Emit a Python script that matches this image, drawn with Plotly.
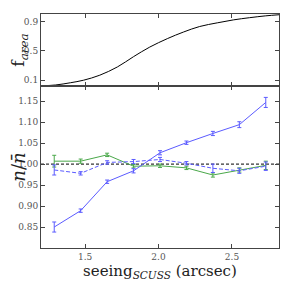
import plotly.graph_objects as go
from plotly.subplots import make_subplots

# Data
seeing = [1.29, 1.47, 1.65, 1.83, 2.01, 2.19, 2.37, 2.55, 2.73]
blue_solid = [0.850, 0.889, 0.958, 0.984, 1.027, 1.051, 1.073, 1.094, 1.147]
blue_solid_err = [0.012, 0.004, 0.004, 0.005, 0.005, 0.004, 0.005, 0.007, 0.012]
green = [1.007, 1.007, 1.022, 0.995, 0.996, 0.991, 0.974, 0.986, 0.997]
green_err = [0.014, 0.005, 0.004, 0.004, 0.004, 0.004, 0.005, 0.005, 0.010]
blue_dash = [0.986, 0.978, 1.004, 1.006, 1.011, 1.002, 0.990, 0.984, 0.995]
blue_dash_err = [0.012, 0.004, 0.004, 0.005, 0.005, 0.004, 0.010, 0.006, 0.010]

farea_x = [1.20, 1.30, 1.40, 1.49, 1.60, 1.72, 1.83, 1.94, 2.06, 2.17, 2.28, 2.40, 2.51, 2.62, 2.73, 2.82]
farea_y = [0.023, 0.035, 0.065, 0.10, 0.168, 0.28, 0.42, 0.55, 0.665, 0.755, 0.83, 0.88, 0.92, 0.95, 0.975, 0.99]

xticks = [1.5, 2.0, 2.5]
xtick_labels = ["1.5", "2.0", "2.5"]
top_yticks = [0.1, 0.5, 0.9]
top_ytick_labels = ["0.1", "0.5", "0.9"]
bot_yticks = [0.85, 0.90, 0.95, 1.00, 1.05, 1.10, 1.15]
bot_ytick_labels = ["0.85", "0.90", "0.95", "1.00", "1.05", "1.10", "1.15"]

BLUE = "#5b5bff"
GREEN = "#4aa84a"
FONT = "DejaVu Serif"

fig = make_subplots(rows=2, cols=1, shared_xaxes=True, vertical_spacing=0,
                    row_heights=[0.308, 0.692])

fig.add_trace(go.Scatter(x=farea_x, y=farea_y, mode="lines", line=dict(color="black", width=1),
                         line_shape="spline", showlegend=False), row=1, col=1)

fig.add_trace(go.Scatter(x=[1.2, 2.82], y=[1.0, 1.0], mode="lines",
                         line=dict(color="black", width=1, dash="3px,2px"), showlegend=False), row=2, col=1)

def series(y, err, color, dash):
    return go.Scatter(x=seeing, y=y, mode="lines", line=dict(color=color, width=1, dash=dash),
                      error_y=dict(type="data", array=err, color=color, thickness=1, width=2),
                      showlegend=False)

fig.add_trace(series(green, green_err, GREEN, "solid"), row=2, col=1)
fig.add_trace(series(blue_dash, blue_dash_err, BLUE, "4px,2px"), row=2, col=1)
fig.add_trace(series(blue_solid, blue_solid_err, BLUE, "solid"), row=2, col=1)

axis_common = dict(showgrid=False, zeroline=False, showline=True, linecolor="#444", linewidth=1,
                   mirror="ticks", ticks="inside", ticklen=4, tickcolor="#444", automargin=False,
                   tickfont=dict(family=FONT, size=9, color="#555"))

fig.update_xaxes(range=[1.2, 2.82], tickvals=xticks, ticktext=xtick_labels, **axis_common)
fig.update_xaxes(showticklabels=False, row=1, col=1)
fig.update_xaxes(title=dict(text="seeing<sub><i>SCUSS</i></sub> (arcsec)", font=dict(family=FONT, size=15, color="#222"),
                            standoff=2), row=2, col=1)
fig.update_yaxes(range=[0.02, 1.0], tickvals=top_yticks, ticktext=top_ytick_labels,
                 title=dict(text="f<sub><i>area</i></sub>", font=dict(family=FONT, size=17, color="#222"), standoff=2),
                 row=1, col=1, **axis_common)
fig.update_yaxes(range=[0.80, 1.186], tickvals=bot_yticks, ticktext=bot_ytick_labels,
                 title=dict(text="<i>n</i>/<i>n\u0304</i>", font=dict(family=FONT, size=18, color="#222"), standoff=2),
                 row=2, col=1, **axis_common)

fig.update_layout(width=281, height=281, margin=dict(l=33, r=10, t=6, b=41),
                  plot_bgcolor="white", paper_bgcolor="white")

fig.write_html("out.html")
